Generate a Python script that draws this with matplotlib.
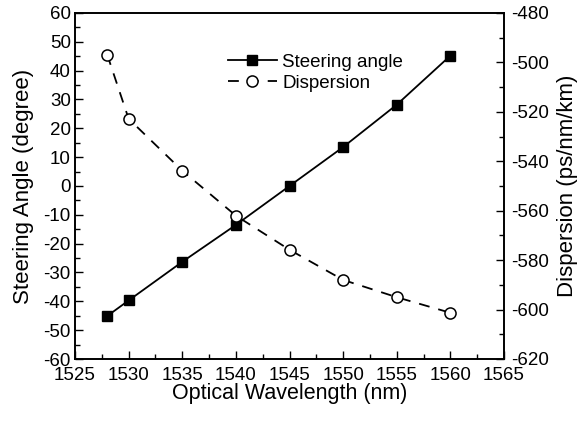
import numpy as np
import matplotlib.pyplot as plt
from matplotlib.ticker import MultipleLocator

plt.rcParams["font.family"] = ["Liberation Sans", "DejaVu Sans"]
plt.rcParams["axes.unicode_minus"] = False

wavelength = [1528, 1530, 1535, 1540, 1545, 1550, 1555, 1560]
steering = [-45.1, -39.7, -26.3, -13.5, 0.0, 13.5, 28.2, 45.2]
dispersion = [-496.8, -522.8, -543.8, -562.0, -575.8, -588.0, -595.0, -601.3]


def create_graph():
    fig = plt.figure(figsize=(5.82, 4.22), dpi=100)
    ax = fig.add_axes([75 / 582, 1 - 359 / 422, 429 / 582, 346 / 422])
    ax2 = ax.twinx()

    l1, = ax.plot(wavelength, steering, color="black", linewidth=1.3,
                  marker="s", markersize=7, markerfacecolor="black",
                  label="Steering angle")
    l2, = ax2.plot(wavelength, dispersion, color="black", linewidth=1.3,
                   linestyle=(0, (6, 5)), marker="o", markersize=8,
                   markerfacecolor="white", markeredgewidth=1.1,
                   label="Dispersion")

    ax.set_xlim(1525, 1565)
    ax.set_ylim(-60, 60)
    ax2.set_ylim(-620, -480)
    ax.xaxis.set_major_locator(MultipleLocator(5))
    ax.xaxis.set_minor_locator(MultipleLocator(2.5))
    ax.yaxis.set_major_locator(MultipleLocator(10))
    ax.yaxis.set_minor_locator(MultipleLocator(5))
    ax2.yaxis.set_major_locator(MultipleLocator(20))
    ax2.yaxis.set_minor_locator(MultipleLocator(10))

    for a in (ax, ax2):
        a.tick_params(which="both", direction="in", labelsize=13.5, width=1)
        a.tick_params(which="major", length=6)
        a.tick_params(which="minor", length=3.5)
        for s in a.spines.values():
            s.set_linewidth(1.2)
    ax.tick_params(axis="x", pad=6)
    ax.tick_params(axis="y", pad=3)
    ax2.tick_params(axis="y", pad=5)

    ax.set_xlabel("Optical Wavelength (nm)", fontsize=15.5, labelpad=-1)
    ax.set_ylabel("Steering Angle (degree)", fontsize=16, labelpad=7)
    ax2.set_ylabel("Dispersion (ps/nm/km)", fontsize=16, labelpad=6)

    ax.legend([l1, l2], ["Steering angle", "Dispersion"], loc="upper left",
              bbox_to_anchor=(0.335, 0.91), frameon=False, fontsize=13.5,
              handlelength=2.6, handletextpad=0.3, labelspacing=0.2,
              borderpad=0)

    fig.savefig("out.png", dpi=100)


if __name__ == "__main__":
    create_graph()
